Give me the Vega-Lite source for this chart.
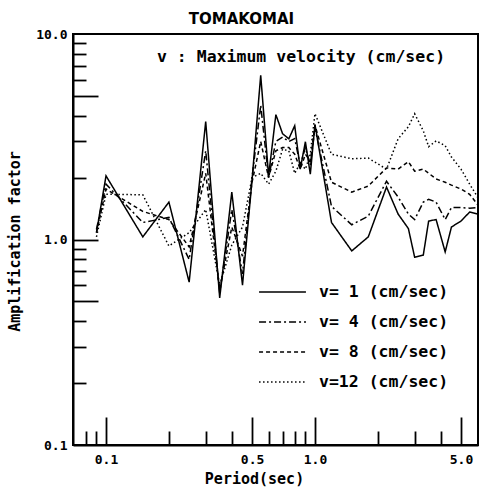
{
  "$schema": "https://vega.github.io/schema/vega-lite/v6.json",
  "width": 405,
  "height": 411,
  "autosize": {"type": "none"},
  "padding": {"left": 73, "top": 34, "right": 2, "bottom": 43},
  "background": "white",
  "title": {"text": "TOMAKOMAI", "font": "DejaVu Sans", "fontSize": 15, "fontWeight": "bold", "color": "black", "dx": -34, "offset": 1},
  "config": {
    "view": {"stroke": "black", "strokeWidth": 2},
    "axis": {"grid": false, "domainColor": "black", "domainWidth": 2, "tickColor": "black", "tickWidth": 1.8, "labelColor": "black", "titleColor": "black", "labelFont": "DejaVu Sans Mono", "labelFontSize": 13, "labelFontWeight": "bold", "titleFont": "DejaVu Sans Mono", "titleFontSize": 15, "titleFontWeight": "bold", "labelFlush": false, "labelOverlap": false}
  },
  "datasets": {
    "curves": [
      {"series": "v= 1 (cm/sec)", "period": 0.09, "amp": 1.08},
      {"series": "v= 1 (cm/sec)", "period": 0.1, "amp": 2.04},
      {"series": "v= 1 (cm/sec)", "period": 0.15, "amp": 1.03},
      {"series": "v= 1 (cm/sec)", "period": 0.2, "amp": 1.52},
      {"series": "v= 1 (cm/sec)", "period": 0.25, "amp": 0.62},
      {"series": "v= 1 (cm/sec)", "period": 0.3, "amp": 3.75},
      {"series": "v= 1 (cm/sec)", "period": 0.35, "amp": 0.52},
      {"series": "v= 1 (cm/sec)", "period": 0.4, "amp": 1.70},
      {"series": "v= 1 (cm/sec)", "period": 0.45, "amp": 0.60},
      {"series": "v= 1 (cm/sec)", "period": 0.5, "amp": 1.95},
      {"series": "v= 1 (cm/sec)", "period": 0.55, "amp": 6.3},
      {"series": "v= 1 (cm/sec)", "period": 0.6, "amp": 2.04},
      {"series": "v= 1 (cm/sec)", "period": 0.65, "amp": 4.05},
      {"series": "v= 1 (cm/sec)", "period": 0.7, "amp": 3.27},
      {"series": "v= 1 (cm/sec)", "period": 0.75, "amp": 3.09},
      {"series": "v= 1 (cm/sec)", "period": 0.8, "amp": 3.58},
      {"series": "v= 1 (cm/sec)", "period": 0.85, "amp": 2.20},
      {"series": "v= 1 (cm/sec)", "period": 0.9, "amp": 2.99},
      {"series": "v= 1 (cm/sec)", "period": 0.95, "amp": 2.08},
      {"series": "v= 1 (cm/sec)", "period": 1.0, "amp": 3.63},
      {"series": "v= 1 (cm/sec)", "period": 1.2, "amp": 1.21},
      {"series": "v= 1 (cm/sec)", "period": 1.5, "amp": 0.88},
      {"series": "v= 1 (cm/sec)", "period": 1.8, "amp": 1.03},
      {"series": "v= 1 (cm/sec)", "period": 2.2, "amp": 1.80},
      {"series": "v= 1 (cm/sec)", "period": 2.5, "amp": 1.33},
      {"series": "v= 1 (cm/sec)", "period": 2.8, "amp": 1.13},
      {"series": "v= 1 (cm/sec)", "period": 3.0, "amp": 0.82},
      {"series": "v= 1 (cm/sec)", "period": 3.3, "amp": 0.84},
      {"series": "v= 1 (cm/sec)", "period": 3.5, "amp": 1.23},
      {"series": "v= 1 (cm/sec)", "period": 3.8, "amp": 1.25},
      {"series": "v= 1 (cm/sec)", "period": 4.2, "amp": 0.87},
      {"series": "v= 1 (cm/sec)", "period": 4.5, "amp": 1.15},
      {"series": "v= 1 (cm/sec)", "period": 5.0, "amp": 1.23},
      {"series": "v= 1 (cm/sec)", "period": 5.5, "amp": 1.36},
      {"series": "v= 1 (cm/sec)", "period": 6.0, "amp": 1.33},

      {"series": "v= 4 (cm/sec)", "period": 0.09, "amp": 1.12},
      {"series": "v= 4 (cm/sec)", "period": 0.1, "amp": 1.86},
      {"series": "v= 4 (cm/sec)", "period": 0.15, "amp": 1.21},
      {"series": "v= 4 (cm/sec)", "period": 0.2, "amp": 1.28},
      {"series": "v= 4 (cm/sec)", "period": 0.25, "amp": 0.80},
      {"series": "v= 4 (cm/sec)", "period": 0.3, "amp": 2.7},
      {"series": "v= 4 (cm/sec)", "period": 0.35, "amp": 0.55},
      {"series": "v= 4 (cm/sec)", "period": 0.4, "amp": 1.40},
      {"series": "v= 4 (cm/sec)", "period": 0.45, "amp": 0.68},
      {"series": "v= 4 (cm/sec)", "period": 0.5, "amp": 2.0},
      {"series": "v= 4 (cm/sec)", "period": 0.55, "amp": 4.5},
      {"series": "v= 4 (cm/sec)", "period": 0.6, "amp": 2.0},
      {"series": "v= 4 (cm/sec)", "period": 0.65, "amp": 3.0},
      {"series": "v= 4 (cm/sec)", "period": 0.7, "amp": 3.15},
      {"series": "v= 4 (cm/sec)", "period": 0.75, "amp": 3.0},
      {"series": "v= 4 (cm/sec)", "period": 0.8, "amp": 3.1},
      {"series": "v= 4 (cm/sec)", "period": 0.85, "amp": 2.3},
      {"series": "v= 4 (cm/sec)", "period": 0.9, "amp": 2.8},
      {"series": "v= 4 (cm/sec)", "period": 0.95, "amp": 2.3},
      {"series": "v= 4 (cm/sec)", "period": 1.0, "amp": 3.5},
      {"series": "v= 4 (cm/sec)", "period": 1.2, "amp": 1.45},
      {"series": "v= 4 (cm/sec)", "period": 1.5, "amp": 1.18},
      {"series": "v= 4 (cm/sec)", "period": 1.8, "amp": 1.30},
      {"series": "v= 4 (cm/sec)", "period": 2.2, "amp": 1.92},
      {"series": "v= 4 (cm/sec)", "period": 2.5, "amp": 1.61},
      {"series": "v= 4 (cm/sec)", "period": 2.8, "amp": 1.33},
      {"series": "v= 4 (cm/sec)", "period": 3.0, "amp": 1.25},
      {"series": "v= 4 (cm/sec)", "period": 3.3, "amp": 1.52},
      {"series": "v= 4 (cm/sec)", "period": 3.5, "amp": 1.57},
      {"series": "v= 4 (cm/sec)", "period": 3.8, "amp": 1.52},
      {"series": "v= 4 (cm/sec)", "period": 4.2, "amp": 1.25},
      {"series": "v= 4 (cm/sec)", "period": 4.5, "amp": 1.43},
      {"series": "v= 4 (cm/sec)", "period": 5.0, "amp": 1.43},
      {"series": "v= 4 (cm/sec)", "period": 5.5, "amp": 1.42},
      {"series": "v= 4 (cm/sec)", "period": 6.0, "amp": 1.43},

      {"series": "v= 8 (cm/sec)", "period": 0.09, "amp": 1.08},
      {"series": "v= 8 (cm/sec)", "period": 0.1, "amp": 1.76},
      {"series": "v= 8 (cm/sec)", "period": 0.15, "amp": 1.37},
      {"series": "v= 8 (cm/sec)", "period": 0.2, "amp": 1.25},
      {"series": "v= 8 (cm/sec)", "period": 0.25, "amp": 0.92},
      {"series": "v= 8 (cm/sec)", "period": 0.3, "amp": 2.1},
      {"series": "v= 8 (cm/sec)", "period": 0.35, "amp": 0.57},
      {"series": "v= 8 (cm/sec)", "period": 0.4, "amp": 1.15},
      {"series": "v= 8 (cm/sec)", "period": 0.45, "amp": 0.83},
      {"series": "v= 8 (cm/sec)", "period": 0.5, "amp": 1.9},
      {"series": "v= 8 (cm/sec)", "period": 0.55, "amp": 3.0},
      {"series": "v= 8 (cm/sec)", "period": 0.6, "amp": 2.0},
      {"series": "v= 8 (cm/sec)", "period": 0.65, "amp": 2.7},
      {"series": "v= 8 (cm/sec)", "period": 0.7, "amp": 2.8},
      {"series": "v= 8 (cm/sec)", "period": 0.75, "amp": 2.8},
      {"series": "v= 8 (cm/sec)", "period": 0.8, "amp": 2.6},
      {"series": "v= 8 (cm/sec)", "period": 0.85, "amp": 2.2},
      {"series": "v= 8 (cm/sec)", "period": 0.9, "amp": 2.6},
      {"series": "v= 8 (cm/sec)", "period": 0.95, "amp": 2.4},
      {"series": "v= 8 (cm/sec)", "period": 1.0, "amp": 3.6},
      {"series": "v= 8 (cm/sec)", "period": 1.2, "amp": 1.90},
      {"series": "v= 8 (cm/sec)", "period": 1.5, "amp": 1.70},
      {"series": "v= 8 (cm/sec)", "period": 1.8, "amp": 1.82},
      {"series": "v= 8 (cm/sec)", "period": 2.2, "amp": 2.23},
      {"series": "v= 8 (cm/sec)", "period": 2.5, "amp": 2.20},
      {"series": "v= 8 (cm/sec)", "period": 2.8, "amp": 2.39},
      {"series": "v= 8 (cm/sec)", "period": 3.0, "amp": 2.15},
      {"series": "v= 8 (cm/sec)", "period": 3.3, "amp": 2.20},
      {"series": "v= 8 (cm/sec)", "period": 3.5, "amp": 2.1},
      {"series": "v= 8 (cm/sec)", "period": 3.8, "amp": 1.97},
      {"series": "v= 8 (cm/sec)", "period": 4.2, "amp": 1.90},
      {"series": "v= 8 (cm/sec)", "period": 4.5, "amp": 1.84},
      {"series": "v= 8 (cm/sec)", "period": 5.0, "amp": 1.76},
      {"series": "v= 8 (cm/sec)", "period": 5.5, "amp": 1.66},
      {"series": "v= 8 (cm/sec)", "period": 6.0, "amp": 1.48},

      {"series": "v=12 (cm/sec)", "period": 0.09, "amp": 1.03},
      {"series": "v=12 (cm/sec)", "period": 0.1, "amp": 1.66},
      {"series": "v=12 (cm/sec)", "period": 0.15, "amp": 1.65},
      {"series": "v=12 (cm/sec)", "period": 0.2, "amp": 0.93},
      {"series": "v=12 (cm/sec)", "period": 0.25, "amp": 1.08},
      {"series": "v=12 (cm/sec)", "period": 0.3, "amp": 1.4},
      {"series": "v=12 (cm/sec)", "period": 0.35, "amp": 0.60},
      {"series": "v=12 (cm/sec)", "period": 0.4, "amp": 0.94},
      {"series": "v=12 (cm/sec)", "period": 0.45, "amp": 1.15},
      {"series": "v=12 (cm/sec)", "period": 0.5, "amp": 2.0},
      {"series": "v=12 (cm/sec)", "period": 0.55, "amp": 2.1},
      {"series": "v=12 (cm/sec)", "period": 0.6, "amp": 1.86},
      {"series": "v=12 (cm/sec)", "period": 0.65, "amp": 2.15},
      {"series": "v=12 (cm/sec)", "period": 0.7, "amp": 2.75},
      {"series": "v=12 (cm/sec)", "period": 0.75, "amp": 2.7},
      {"series": "v=12 (cm/sec)", "period": 0.8, "amp": 2.1},
      {"series": "v=12 (cm/sec)", "period": 0.85, "amp": 2.35},
      {"series": "v=12 (cm/sec)", "period": 0.9, "amp": 2.2},
      {"series": "v=12 (cm/sec)", "period": 0.95, "amp": 2.6},
      {"series": "v=12 (cm/sec)", "period": 1.0, "amp": 4.1},
      {"series": "v=12 (cm/sec)", "period": 1.2, "amp": 2.6},
      {"series": "v=12 (cm/sec)", "period": 1.5, "amp": 2.47},
      {"series": "v=12 (cm/sec)", "period": 1.8, "amp": 2.49},
      {"series": "v=12 (cm/sec)", "period": 2.2, "amp": 2.2},
      {"series": "v=12 (cm/sec)", "period": 2.5, "amp": 3.09},
      {"series": "v=12 (cm/sec)", "period": 2.8, "amp": 3.54},
      {"series": "v=12 (cm/sec)", "period": 3.0, "amp": 4.09},
      {"series": "v=12 (cm/sec)", "period": 3.3, "amp": 3.38},
      {"series": "v=12 (cm/sec)", "period": 3.5, "amp": 2.83},
      {"series": "v=12 (cm/sec)", "period": 3.8, "amp": 3.02},
      {"series": "v=12 (cm/sec)", "period": 4.2, "amp": 2.86},
      {"series": "v=12 (cm/sec)", "period": 4.5, "amp": 2.52},
      {"series": "v=12 (cm/sec)", "period": 5.0, "amp": 2.20},
      {"series": "v=12 (cm/sec)", "period": 5.5, "amp": 1.86},
      {"series": "v=12 (cm/sec)", "period": 6.0, "amp": 1.61}
    ]
  },
  "layer": [
    {
      "data": {"name": "curves"},
      "mark": {"type": "line", "color": "black", "strokeWidth": 1.5, "clip": true},
      "encoding": {
        "x": {
          "field": "period", "type": "quantitative",
          "scale": {"type": "log", "domain": [0.0695, 6.03], "nice": false},
          "axis": {
            "orient": "bottom",
            "values": [0.08, 0.09, 0.1, 0.2, 0.3, 0.4, 0.5, 0.6, 0.7, 0.8, 0.9, 1, 2, 3, 4, 5],
            "labels": false,
            "tickSize": {"condition": {"test": "datum.value == 0.1 || datum.value == 0.5 || datum.value == 1 || datum.value == 5", "value": -28}, "value": -14},
            "title": "Period(sec)",
            "titleX": 181,
            "titleY": 33,
            "titleBaseline": "middle",
            "titleAlign": "center"
          }
        },
        "y": {
          "field": "amp", "type": "quantitative",
          "scale": {"type": "log", "domain": [0.1, 10], "nice": false},
          "axis": {
            "orient": "left",
            "values": [0.2, 0.3, 0.4, 0.5, 0.6, 0.7, 0.8, 0.9, 1, 2, 3, 4, 5, 6, 7, 8, 9],
            "labels": false,
            "tickSize": {"condition": {"test": "datum.value == 0.5 || datum.value == 1 || datum.value == 5", "value": -25}, "value": -13},
            "title": "Amplification factor",
            "titleX": -59,
            "titleY": 207,
            "titleAngle": -90,
            "titleBaseline": "middle",
            "titleAlign": "center"
          }
        },
        "strokeDash": {
          "field": "series", "type": "nominal",
          "scale": {"domain": ["v= 1 (cm/sec)", "v= 4 (cm/sec)", "v= 8 (cm/sec)", "v=12 (cm/sec)"], "range": [[1, 0], [7, 3, 2, 3], [4, 3], [1.5, 2.5]]},
          "legend": {"orient": "none", "legendX": 185, "legendY": 249, "title": null, "symbolType": "stroke", "symbolSize": 2200, "symbolStrokeWidth": 1.5, "symbolStrokeColor": "black", "labelFont": "DejaVu Sans Mono", "labelFontSize": 16.5, "labelFontWeight": "bold", "labelColor": "black", "labelOffset": 12, "clipHeight": 18, "rowPadding": 12, "padding": 0}
        }
      }
    },
    {
      "data": {"values": [{"label": "v : Maximum velocity (cm/sec)", "period": 0.1754, "amp": 7.73}]},
      "mark": {"type": "text", "align": "left", "baseline": "middle", "font": "DejaVu Sans Mono", "fontSize": 16.5, "fontWeight": "bold", "color": "black"},
      "encoding": {
        "x": {
          "field": "period", "type": "quantitative",
          "scale": {"type": "log"},
          "axis": {"orient": "bottom", "values": [0.1, 0.5, 1, 5], "format": ".1f", "ticks": false, "domain": false, "labelPadding": 8, "title": null}
        },
        "y": {
          "field": "amp", "type": "quantitative",
          "scale": {"type": "log"},
          "axis": {"orient": "left", "values": [0.1, 1, 10], "format": ".1f", "ticks": false, "domain": false, "labelPadding": 6, "title": null}
        },
        "text": {"field": "label"}
      }
    }
  ],
  "resolve": {"axis": {"x": "independent", "y": "independent"}}
}
